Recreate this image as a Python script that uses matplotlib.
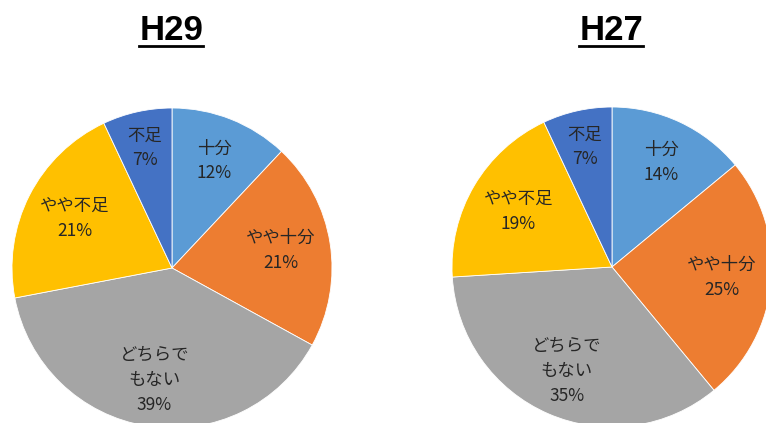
import matplotlib.pyplot as plt
from matplotlib.lines import Line2D
import numpy as np

plt.rcParams['font.family'] = ['Noto Sans CJK JP', 'DejaVu Sans']

categories = ['十分', 'やや十分', 'どちらで\nもない', 'やや不足', '不足']
h29 = [12, 21, 39, 21, 7]
h27 = [14, 25, 35, 19, 7]
colors = ['#5B9BD5', '#ED7D31', '#A5A5A5', '#FFC000', '#4472C4']

# distance of each data label from the pie centre (fraction of radius)
label_dist = [0.72, 0.69, 0.71, 0.68, 0.77]

W, H = 766, 423
fig = plt.figure(figsize=(W / 100, H / 100), dpi=100)


def draw_pie(cx, cy, r, values, title):
    # axes box in pixels, pie radius 1 fills it
    ax = fig.add_axes([(cx - r) / W, (H - cy - r) / H, 2 * r / W, 2 * r / H])
    wedges, _ = ax.pie(values, colors=colors, startangle=90, counterclock=False,
                       radius=1, wedgeprops=dict(edgecolor='white', linewidth=0.6))
    ax.set_xlim(-1, 1)
    ax.set_ylim(-1, 1)
    ax.set_aspect('equal')
    ax.axis('off')
    for w, name, v, d in zip(wedges, categories, values, label_dist):
        mid = np.deg2rad((w.theta1 + w.theta2) / 2)
        ax.text(d * np.cos(mid), d * np.sin(mid), f'{name}\n{v}%',
                ha='center', va='center', fontsize=12.5, color='#262626',
                linespacing=1.5)
    fig.text(cx / W, 1 - 30 / H, title, ha='center', va='center',
             fontsize=25, fontweight='bold', family='Liberation Sans')
    # underline below the title
    fig.add_artist(Line2D([(cx - 33) / W, (cx + 31) / W], [1 - 46 / H] * 2,
                          color='black', linewidth=2))


draw_pie(172, 268, 160, h29, 'H29')
draw_pie(612, 267, 160, h27, 'H27')

fig.savefig('out.png', dpi=100)
